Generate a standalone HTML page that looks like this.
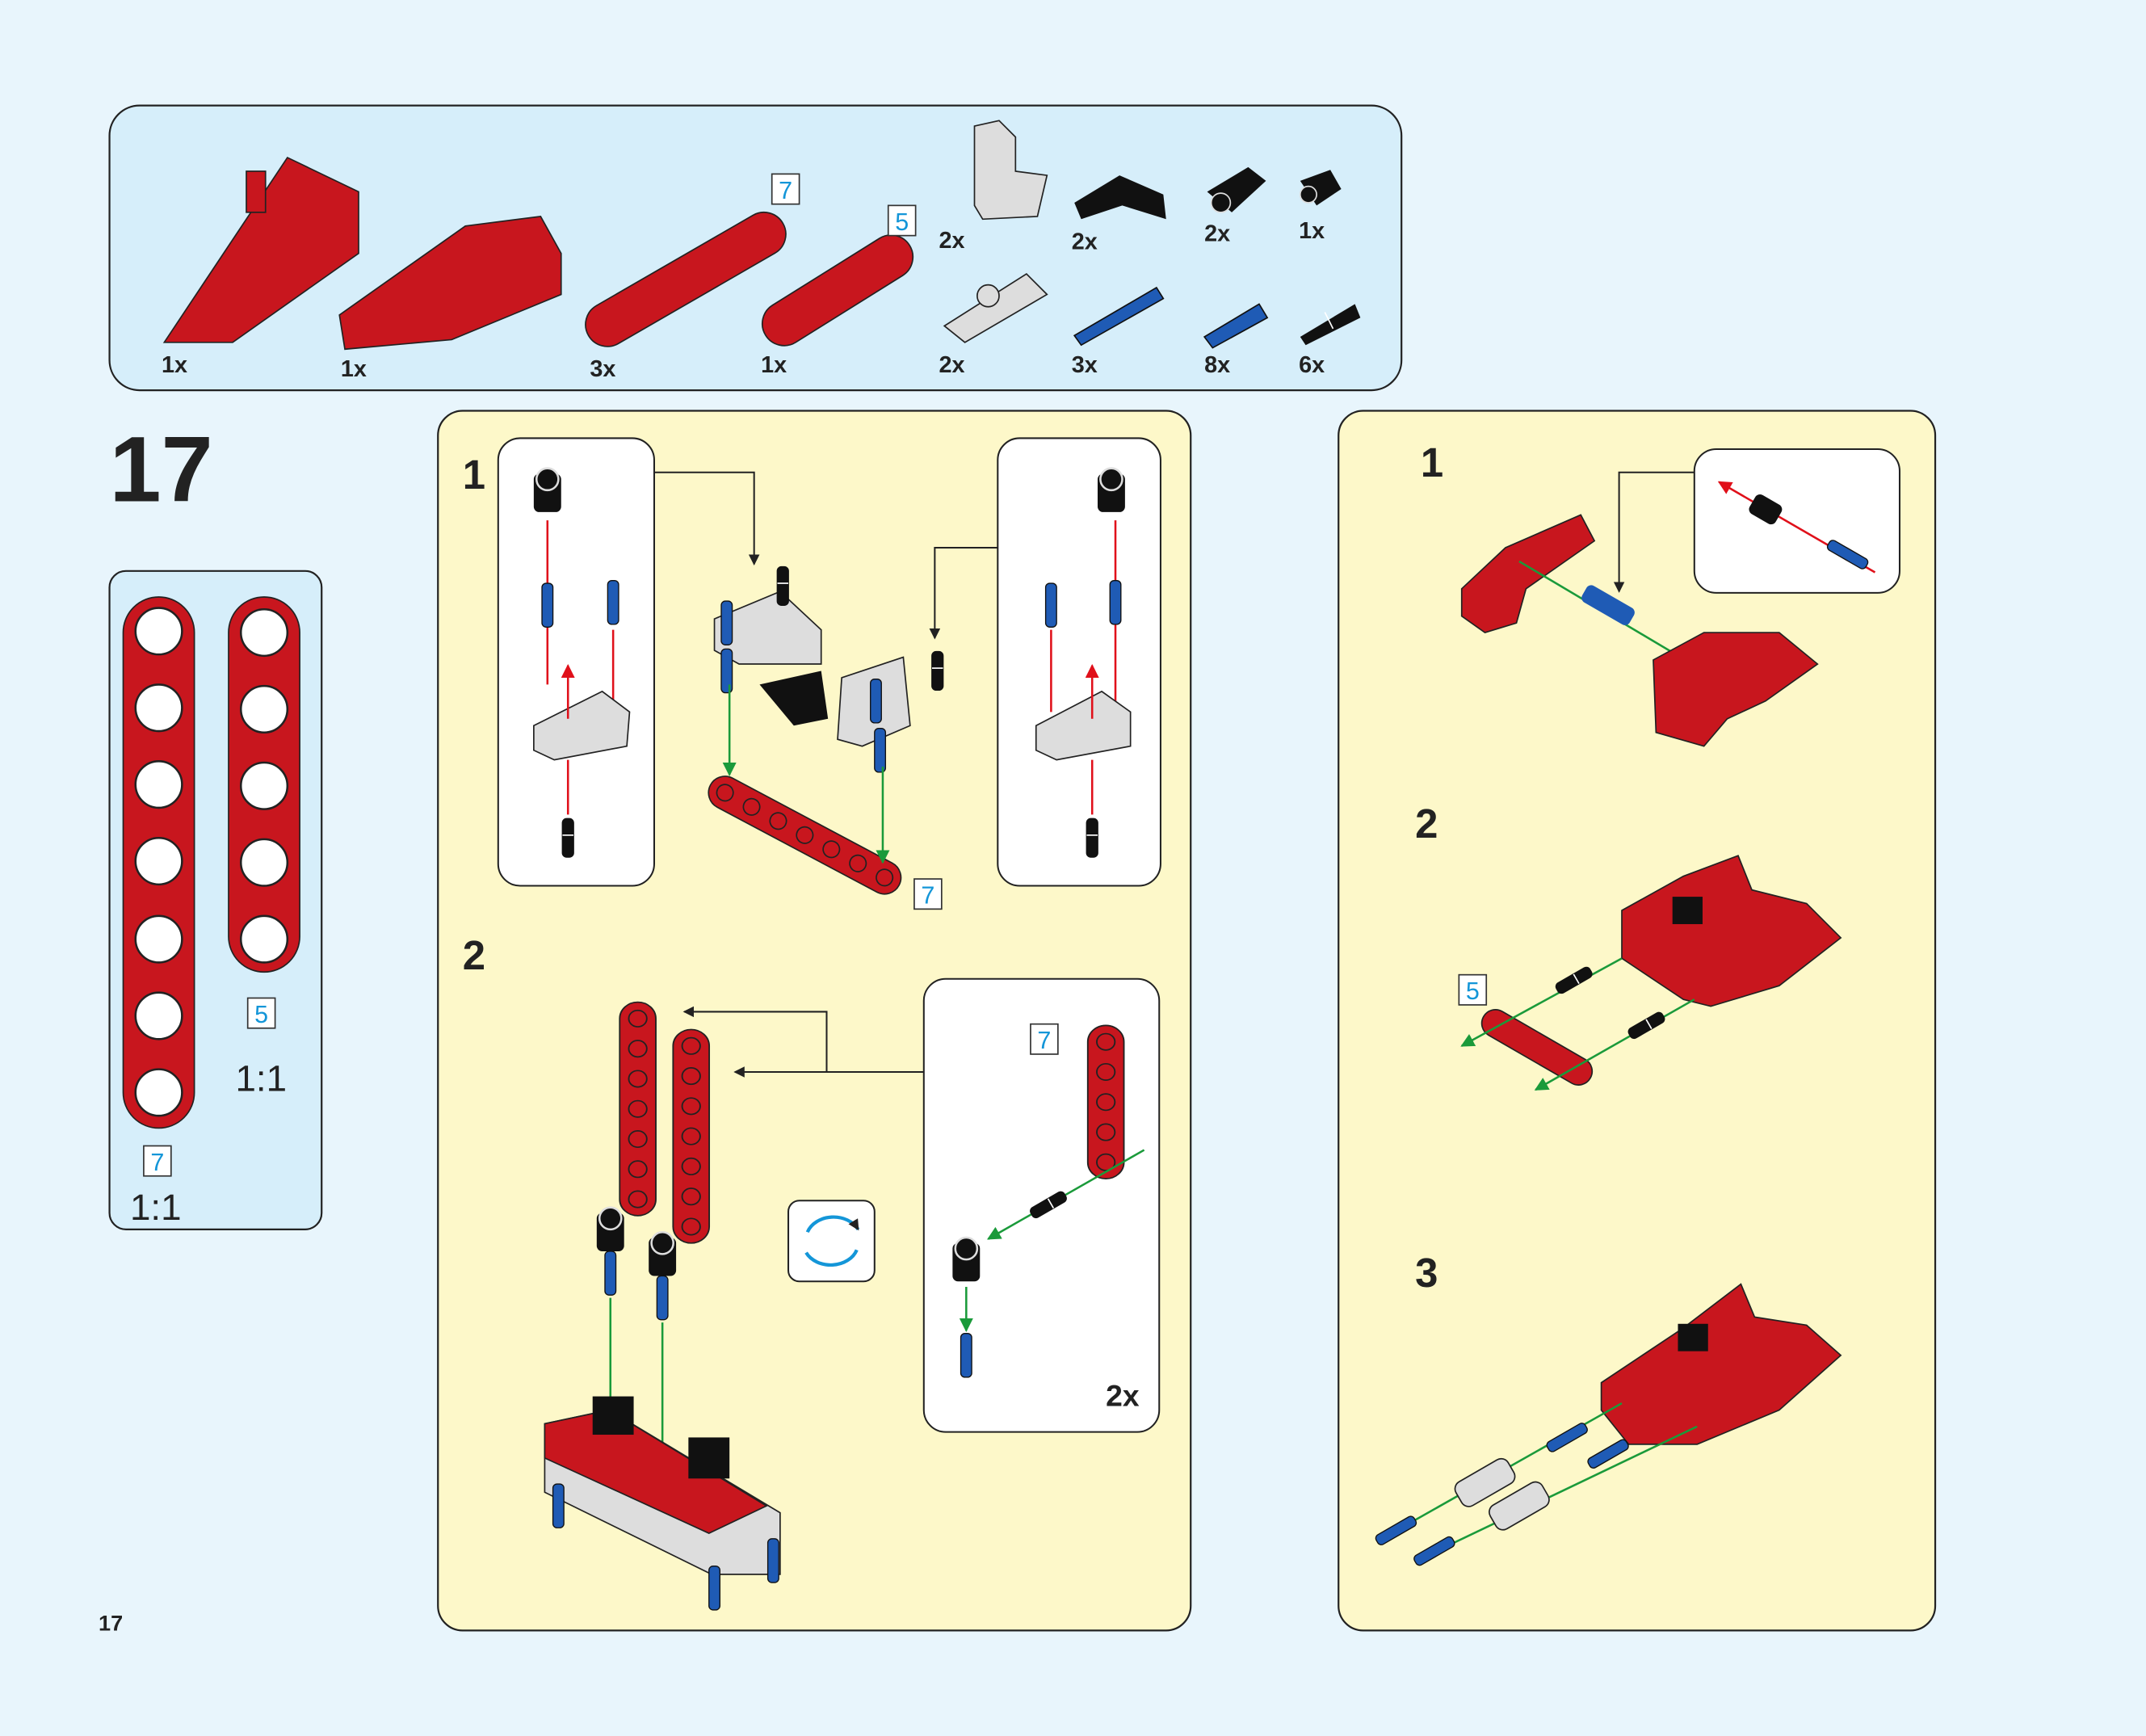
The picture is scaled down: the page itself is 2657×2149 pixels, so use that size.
<!DOCTYPE html>
<html><head><meta charset="utf-8">
<style>
html,body{margin:0;padding:0;background:#e8f5fc;}
svg{display:block}
text{font-family:"Liberation Sans",Arial,sans-serif;}
</style></head>
<body>
<svg width="2657" height="2149" viewBox="0 0 1568 1268" xmlns="http://www.w3.org/2000/svg">
<defs>
<marker id="ak" markerWidth="8" markerHeight="8" refX="7" refY="4" orient="auto" markerUnits="userSpaceOnUse"><path d="M0,0 L8,4 L0,8 z" fill="#222"/></marker>
<marker id="ar" markerWidth="10" markerHeight="10" refX="9" refY="5" orient="auto" markerUnits="userSpaceOnUse"><path d="M0,0 L10,5 L0,10 z" fill="#e0101a"/></marker>
<marker id="ag" markerWidth="10" markerHeight="10" refX="9" refY="5" orient="auto" markerUnits="userSpaceOnUse"><path d="M0,0 L10,5 L0,10 z" fill="#1a9a3a"/></marker>
<g id="beam7"><rect x="-12" y="-78" width="24" height="156" rx="12" fill="#c8161e" stroke="#222" stroke-width="1"/>
<g fill="none" stroke="#222" stroke-width="1"><circle cx="0" cy="-66" r="6"/><circle cx="0" cy="-44" r="6"/><circle cx="0" cy="-22" r="6"/><circle cx="0" cy="0" r="6"/><circle cx="0" cy="22" r="6"/><circle cx="0" cy="44" r="6"/><circle cx="0" cy="66" r="6"/></g></g>
<g id="beam5"><rect x="-12" y="-56" width="24" height="112" rx="12" fill="#c8161e" stroke="#222" stroke-width="1"/>
<g fill="none" stroke="#222" stroke-width="1"><circle cx="0" cy="-44" r="6"/><circle cx="0" cy="-22" r="6"/><circle cx="0" cy="0" r="6"/><circle cx="0" cy="22" r="6"/><circle cx="0" cy="44" r="6"/></g></g>
<g id="bpin"><rect x="-4" y="-16" width="8" height="32" rx="3" fill="#1f5bb5" stroke="#111" stroke-width="0.8"/></g>
<g id="kpin"><rect x="-4" y="-14" width="8" height="28" rx="3" fill="#111" stroke="#111"/><line x1="-4" y1="-2" x2="4" y2="-2" stroke="#fff" stroke-width="1"/></g>
<g id="blk"><rect x="-10" y="-14" width="20" height="28" rx="4" fill="#111"/><circle cx="0" cy="-10" r="8" fill="#111" stroke="#ddd" stroke-width="1.5"/></g>
<g id="box7"><rect x="-10" y="-11" width="20" height="22" fill="#fff" stroke="#333" stroke-width="1"/><text x="0" y="7" font-size="18" fill="#1496d8" text-anchor="middle">7</text></g>
<g id="box5"><rect x="-10" y="-11" width="20" height="22" fill="#fff" stroke="#333" stroke-width="1"/><text x="0" y="7" font-size="18" fill="#1496d8" text-anchor="middle">5</text></g>
</defs>
<rect width="1568" height="1268" fill="#e8f5fc"/>

<!-- parts panel -->
<rect x="80" y="77" width="944" height="208" rx="22" fill="#d6eefa" stroke="#222" stroke-width="1.3"/>
<path d="M120,250 L210,115 L262,140 L262,185 L170,250 Z" fill="#c8161e" stroke="#222"/>
<rect x="180" y="125" width="14" height="30" fill="#c8161e" stroke="#222"/>
<path d="M248,230 L340,165 L395,158 L410,185 L410,215 L330,248 L252,255 Z" fill="#c8161e" stroke="#222"/>
<g transform="translate(501,204) rotate(60)"><rect x="-16" y="-82" width="32" height="164" rx="16" fill="#c8161e" stroke="#222"/></g>
<g transform="translate(612,212) rotate(58)"><rect x="-16" y="-62" width="32" height="124" rx="16" fill="#c8161e" stroke="#222"/></g>
<use href="#box7" x="574" y="138"/><use href="#box5" x="659" y="161"/>
<path d="M712,92 L730,88 L742,100 L742,125 L765,128 L758,158 L718,160 L712,150 Z" fill="#ddd" stroke="#222"/>
<path d="M785,148 L818,128 L850,142 L852,160 L820,150 L790,160 Z" fill="#111"/>
<path d="M882,140 L912,122 L925,132 L900,155 Z" fill="#111"/><circle cx="892" cy="148" r="7" fill="#111" stroke="#ddd"/>
<path d="M950,132 L972,124 L980,138 L962,150 Z" fill="#111"/><circle cx="956" cy="142" r="6" fill="#111" stroke="#ddd"/>
<path d="M690,238 L750,200 L765,215 L705,250 Z" fill="#ddd" stroke="#222"/><circle cx="722" cy="216" r="8" fill="#ddd" stroke="#222"/>
<path d="M785,245 L845,210 L850,218 L790,252 Z" fill="#1f5bb5" stroke="#111"/>
<path d="M880,246 L920,222 L926,232 L886,254 Z" fill="#1f5bb5" stroke="#111"/>
<path d="M950,246 L990,222 L994,232 L954,252 Z" fill="#111"/><line x1="968" y1="228" x2="974" y2="240" stroke="#fff"/>
<g font-size="17" font-weight="bold" fill="#222">
<text x="118" y="272">1x</text><text x="249" y="275">1x</text><text x="431" y="275">3x</text><text x="556" y="272">1x</text>
<text x="686" y="181">2x</text><text x="783" y="182">2x</text><text x="880" y="176">2x</text><text x="949" y="174">1x</text>
<text x="686" y="272">2x</text><text x="783" y="272">3x</text><text x="880" y="272">8x</text><text x="949" y="272">6x</text>
</g>

<text x="80" y="366" font-size="68" font-weight="bold" fill="#222">17</text>

<!-- ruler -->
<rect x="80" y="417" width="155" height="481" rx="12" fill="#d6eefa" stroke="#222" stroke-width="1.3"/>
<rect x="90" y="436" width="52" height="388" rx="26" fill="#c8161e" stroke="#222"/>
<g fill="#fff" stroke="#222" stroke-width="1.5">
<circle cx="116" cy="461" r="17"/><circle cx="116" cy="517" r="17"/><circle cx="116" cy="573" r="17"/><circle cx="116" cy="629" r="17"/><circle cx="116" cy="686" r="17"/><circle cx="116" cy="742" r="17"/><circle cx="116" cy="798" r="17"/></g>
<rect x="167" y="436" width="52" height="274" rx="26" fill="#c8161e" stroke="#222"/>
<g fill="#fff" stroke="#222" stroke-width="1.5">
<circle cx="193" cy="462" r="17"/><circle cx="193" cy="518" r="17"/><circle cx="193" cy="574" r="17"/><circle cx="193" cy="630" r="17"/><circle cx="193" cy="686" r="17"/></g>
<use href="#box5" x="191" y="740"/><use href="#box7" x="115" y="848"/>
<text x="172" y="797" font-size="27" fill="#222">1:1</text>
<text x="95" y="891" font-size="27" fill="#222">1:1</text>

<!-- panel A -->
<rect x="320" y="300" width="550" height="891" rx="18" fill="#fdf8c9" stroke="#222" stroke-width="1.3"/>
<text x="338" y="357" font-size="30" font-weight="bold" fill="#222">1</text>
<text x="338" y="708" font-size="30" font-weight="bold" fill="#222">2</text>
<rect x="364" y="320" width="114" height="327" rx="16" fill="#fff" stroke="#222" stroke-width="1.2"/>
<rect x="729" y="320" width="119" height="327" rx="16" fill="#fff" stroke="#222" stroke-width="1.2"/>
<rect x="675" y="715" width="172" height="331" rx="16" fill="#fff" stroke="#222" stroke-width="1.2"/>
<use href="#blk" x="400" y="360"/>
<line x1="400" y1="380" x2="400" y2="500" stroke="#e0101a" stroke-width="1.5"/>
<line x1="448" y1="460" x2="448" y2="520" stroke="#e0101a" stroke-width="1.5"/>
<use href="#bpin" x="400" y="442"/><use href="#bpin" x="448" y="440"/>
<path d="M390,530 L440,505 L460,520 L458,545 L405,555 L390,548 Z" fill="#ddd" stroke="#222"/>
<line x1="415" y1="525" x2="415" y2="486" stroke="#e0101a" stroke-width="1.5" marker-end="url(#ar)"/>
<line x1="415" y1="555" x2="415" y2="595" stroke="#e0101a" stroke-width="1.5"/>
<use href="#kpin" x="415" y="612"/>
<use href="#blk" x="812" y="360"/>
<line x1="815" y1="380" x2="815" y2="520" stroke="#e0101a" stroke-width="1.5"/>
<line x1="768" y1="460" x2="768" y2="520" stroke="#e0101a" stroke-width="1.5"/>
<use href="#bpin" x="768" y="442"/><use href="#bpin" x="815" y="440"/>
<path d="M757,530 L805,505 L826,520 L826,545 L772,555 L757,548 Z" fill="#ddd" stroke="#222"/>
<line x1="798" y1="525" x2="798" y2="486" stroke="#e0101a" stroke-width="1.5" marker-end="url(#ar)"/>
<line x1="798" y1="555" x2="798" y2="595" stroke="#e0101a" stroke-width="1.5"/>
<use href="#kpin" x="798" y="612"/>
<path d="M478,345 L551,345 L551,412" fill="none" stroke="#222" stroke-width="1.2" marker-end="url(#ak)"/>
<path d="M729,400 L683,400 L683,466" fill="none" stroke="#222" stroke-width="1.2" marker-end="url(#ak)"/>
<path d="M522,452 L570,432 L600,460 L600,485 L540,485 L522,475 Z" fill="#ddd" stroke="#222"/>
<use href="#kpin" x="572" y="428"/><use href="#bpin" x="531" y="455"/>
<path d="M555,500 L600,490 L605,525 L580,530 Z" fill="#111"/>
<path d="M615,495 L660,480 L665,530 L630,545 L612,540 Z" fill="#ddd" stroke="#222"/>
<use href="#bpin" x="640" y="512"/><use href="#kpin" x="685" y="490"/>
<use href="#bpin" x="531" y="490"/><use href="#bpin" x="643" y="548"/>
<g transform="translate(588,610) rotate(-62)"><use href="#beam7"/></g>
<line x1="533" y1="500" x2="533" y2="566" stroke="#1a9a3a" stroke-width="1.5" marker-end="url(#ag)"/>
<line x1="645" y1="560" x2="645" y2="630" stroke="#1a9a3a" stroke-width="1.5" marker-end="url(#ag)"/>
<use href="#box7" x="678" y="653"/>
<path d="M675,783 L604,783 L604,739 L500,739" fill="none" stroke="#222" stroke-width="1.2" marker-end="url(#ak)"/>
<path d="M604,783 L537,783" fill="none" stroke="#222" stroke-width="1.2" marker-end="url(#ak)"/>
<g transform="translate(466,810)"><use href="#beam7" transform="scale(1.1,1)"/></g>
<g transform="translate(505,830)"><use href="#beam7" transform="scale(1.1,1)"/></g>
<use href="#blk" x="446" y="900"/><use href="#blk" x="484" y="918"/>
<use href="#bpin" x="446" y="930"/><use href="#bpin" x="484" y="948"/>
<line x1="446" y1="948" x2="446" y2="1080" stroke="#1a9a3a" stroke-width="1.5" marker-end="url(#ag)"/>
<line x1="484" y1="966" x2="484" y2="1085" stroke="#1a9a3a" stroke-width="1.5" marker-end="url(#ag)"/>
<path d="M398,1040 L445,1030 L570,1105 L570,1150 L520,1150 L398,1090 Z" fill="#ddd" stroke="#222"/>
<path d="M398,1040 L445,1030 L560,1100 L518,1120 L398,1065 Z" fill="#c8161e" stroke="#222"/>
<rect x="433" y="1020" width="30" height="28" fill="#111"/><rect x="503" y="1050" width="30" height="30" fill="#111"/>
<use href="#bpin" x="408" y="1100"/><use href="#bpin" x="522" y="1160"/><use href="#bpin" x="565" y="1140"/>
<rect x="576" y="877" width="63" height="59" rx="8" fill="#fff" stroke="#222" stroke-width="1.2"/>
<path d="M590,900 A20,16 0 0 1 627,898" fill="none" stroke="#1496d8" stroke-width="2.5" marker-end="url(#ak)"/>
<path d="M626,913 A20,16 0 0 1 589,915" fill="none" stroke="#1496d8" stroke-width="2.5"/>
<use href="#box7" x="763" y="759"/>
<g transform="translate(808,805)"><use href="#beam5" transform="scale(1.1,1)"/></g>
<line x1="836" y1="840" x2="722" y2="905" stroke="#1a9a3a" stroke-width="1.5" marker-end="url(#ag)"/>
<g transform="translate(766,880) rotate(60)"><use href="#kpin"/></g>
<use href="#blk" x="706" y="922"/>
<line x1="706" y1="940" x2="706" y2="972" stroke="#1a9a3a" stroke-width="1.5" marker-end="url(#ag)"/>
<use href="#bpin" x="706" y="990"/>
<text x="808" y="1027" font-size="22" font-weight="bold" fill="#222">2x</text>

<!-- panel B -->
<rect x="978" y="300" width="436" height="891" rx="18" fill="#fdf8c9" stroke="#222" stroke-width="1.3"/>
<text x="1038" y="348" font-size="30" font-weight="bold" fill="#222">1</text>
<text x="1034" y="612" font-size="30" font-weight="bold" fill="#222">2</text>
<text x="1034" y="940" font-size="30" font-weight="bold" fill="#222">3</text>
<rect x="1238" y="328" width="150" height="105" rx="16" fill="#fff" stroke="#222" stroke-width="1.2"/>
<line x1="1370" y1="418" x2="1256" y2="352" stroke="#e0101a" stroke-width="1.5" marker-end="url(#ar)"/>
<g transform="translate(1290,372) rotate(-60)"><rect x="-8" y="-11" width="16" height="22" rx="4" fill="#111"/></g>
<g transform="translate(1350,405) rotate(-60)"><use href="#bpin"/></g>
<path d="M1238,345 L1183,345 L1183,432" fill="none" stroke="#222" stroke-width="1.2" marker-end="url(#ak)"/>
<path d="M1068,430 L1100,400 L1155,376 L1165,395 L1115,430 L1108,455 L1085,462 L1068,450 Z" fill="#c8161e" stroke="#222"/>
<line x1="1110" y1="410" x2="1270" y2="505" stroke="#1a9a3a" stroke-width="1.5" marker-end="url(#ag)"/>
<rect x="1155" y="435" width="40" height="14" rx="4" fill="#1f5bb5" transform="rotate(30 1175 442)"/>
<path d="M1208,482 L1245,462 L1300,462 L1328,485 L1290,512 L1262,525 L1245,545 L1210,535 Z" fill="#c8161e" stroke="#222"/>
<path d="M1185,665 L1230,640 L1270,625 L1280,650 L1320,660 L1345,685 L1300,720 L1250,735 L1230,730 L1185,700 Z" fill="#c8161e" stroke="#222"/>
<rect x="1222" y="655" width="22" height="20" fill="#111"/>
<g transform="translate(1123,765) rotate(30)"><rect x="-45" y="-10" width="90" height="20" rx="10" fill="#c8161e" stroke="#222"/></g>
<use href="#box5" x="1076" y="723"/>
<line x1="1185" y1="700" x2="1068" y2="764" stroke="#1a9a3a" stroke-width="1.5" marker-end="url(#ag)"/>
<line x1="1238" y1="730" x2="1122" y2="796" stroke="#1a9a3a" stroke-width="1.5" marker-end="url(#ag)"/>
<g transform="translate(1150,716) rotate(60)"><use href="#kpin"/></g>
<g transform="translate(1203,749) rotate(60)"><use href="#kpin"/></g>
<path d="M1170,1010 L1230,970 L1272,938 L1282,962 L1320,968 L1345,990 L1300,1030 L1240,1055 L1190,1055 L1170,1030 Z" fill="#c8161e" stroke="#222"/>
<rect x="1226" y="967" width="22" height="20" fill="#111"/>
<line x1="1185" y1="1025" x2="1008" y2="1125" stroke="#1a9a3a" stroke-width="1.5"/>
<line x1="1240" y1="1042" x2="1035" y2="1140" stroke="#1a9a3a" stroke-width="1.5"/>
<g transform="translate(1085,1083) rotate(60)"><rect x="-10" y="-22" width="20" height="44" rx="6" fill="#ddd" stroke="#222"/></g>
<g transform="translate(1110,1100) rotate(60)"><rect x="-10" y="-22" width="20" height="44" rx="6" fill="#ddd" stroke="#222"/></g>
<g transform="translate(1145,1050) rotate(60)"><use href="#bpin"/></g>
<g transform="translate(1175,1062) rotate(60)"><use href="#bpin"/></g>
<g transform="translate(1020,1118) rotate(60)"><use href="#bpin"/></g>
<g transform="translate(1048,1133) rotate(60)"><use href="#bpin"/></g>

<text x="72" y="1191" font-size="16" font-weight="bold" fill="#222">17</text>
</svg>
</body></html>
